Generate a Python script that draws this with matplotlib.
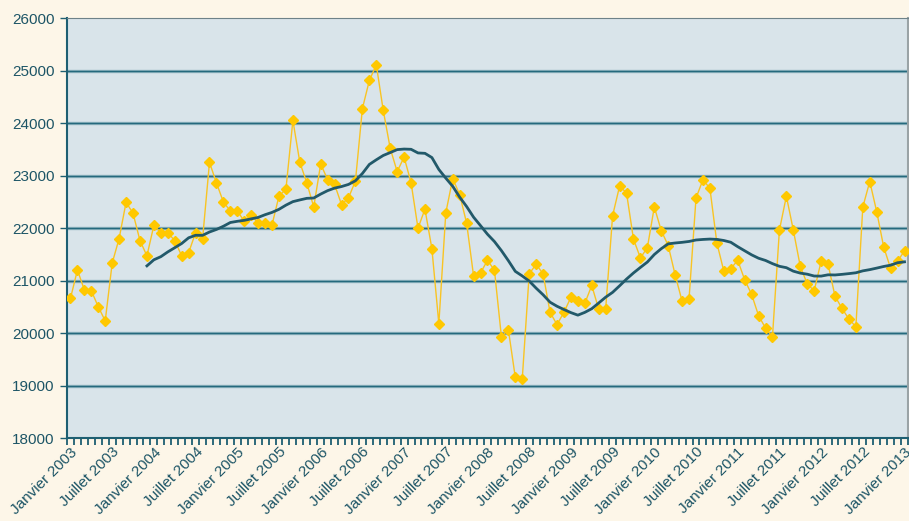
import pandas as pd
import matplotlib.pyplot as plt
from matplotlib.ticker import FixedLocator, MultipleLocator

# --------------------------------------------------
# Data: monthly values, Janvier 2003 -> Janvier 2013
# --------------------------------------------------
values = [
    20660, 21200, 20820, 20805, 20500, 20230, 21330, 21800, 22490, 22280, 21760, 21470,  # 2003
    22050, 21910, 21910, 21760, 21470, 21530, 21910, 21785, 23250, 22860, 22495, 22325,  # 2004
    22325, 22130, 22250, 22090, 22090, 22060, 22610, 22740, 24050, 23250, 22860, 22400,  # 2005
    23220, 22920, 22830, 22445, 22575, 22895, 24275, 24810, 25110, 24240, 23520, 23075,  # 2006
    23350, 22865, 21995, 22360, 21605, 20175, 22290, 22940, 22635, 22090, 21085, 21145,  # 2007
    21385, 21195, 19930, 20065, 19155, 19125, 21125, 21310, 21125, 20395, 20160, 20395,  # 2008
    20680, 20615, 20565, 20905, 20455, 20455, 22235, 22795, 22670, 21790, 21430, 21625,  # 2009
    22400, 21950, 21665, 21105, 20605, 20655, 22570, 22920, 22755, 21715, 21180, 21225,  # 2010
    21385, 21015, 20735, 20330, 20095, 19930, 21960, 22605, 21960, 21270, 20935, 20805,  # 2011
    21365, 21310, 20700, 20470, 20265, 20120, 22400, 22885, 22310, 21640, 21230, 21370,  # 2012
    21565,                                                                                # 2013
]
years = list(range(2003, 2014))
label_months = ["Janvier", "Juillet"]
y_ticks = [18000, 19000, 20000, 21000, 22000, 23000, 24000, 25000, 26000]

df = pd.DataFrame({"value": values})
# 12-month moving average (trendline of the original chart)
df["moyenne"] = df["value"].rolling(12).mean()

tick_labels = [f"{m} {y}" for y in years for m in label_months][:-1]

# --------------------------------------------------
# Style
# --------------------------------------------------
plt.rcParams["font.family"] = ["Liberation Sans", "DejaVu Sans"]
bg = "#FDF6E8"
teal = "#1E5F72"
text_col = "#1D5566"

fig = plt.figure(figsize=(9.09, 5.21), dpi=100, facecolor=bg)
ax = fig.add_axes([67 / 909, 83 / 521, 841 / 909, 420 / 521])
ax.set_facecolor("#D9E4EA")

# gridlines with a light band under the dark line
for yv in y_ticks[1:-1]:
    ax.axhline(yv, color="#8FB4BF", lw=2.4, zorder=1)
    ax.axhline(yv, color="#25697D", lw=1.0, zorder=1)

x = df.index
ax.plot(x, df["value"], color="#F9C423", lw=1.0, marker="D", ms=5.5,
        mfc="#FFC800", mec="#FFC800", zorder=3)
ax.plot(x, df["moyenne"], color="#22596A", lw=2.0, zorder=4)

ax.set_xlim(-0.5, len(values) - 0.5)
ax.set_ylim(y_ticks[0], y_ticks[-1])

# y axis
ax.set_yticks(y_ticks)
ax.tick_params(axis="y", length=5, width=1, color=teal, labelcolor=text_col,
               labelsize=11, pad=4)

# x axis: ticks between months, labels every 6 months
ax.xaxis.set_major_locator(FixedLocator(list(range(0, len(values), 6))))
ax.set_xticklabels(tick_labels, rotation=45, ha="right", va="top",
                   rotation_mode="anchor")
ax.xaxis.set_minor_locator(MultipleLocator(1, offset=0.5))
ax.tick_params(axis="x", which="major", length=0, pad=5,
               labelcolor=text_col, labelsize=11)
ax.tick_params(axis="x", which="minor", length=5, width=1.3, color=teal)

for side in ["left", "bottom"]:
    ax.spines[side].set_color(teal)
    ax.spines[side].set_linewidth(1.5)
ax.spines["top"].set_color("#6E8288")
ax.spines["right"].set_color("#9AA3A6")
ax.spines["right"].set_linewidth(1.5)

fig.savefig("out.png", dpi=100, facecolor=bg)
